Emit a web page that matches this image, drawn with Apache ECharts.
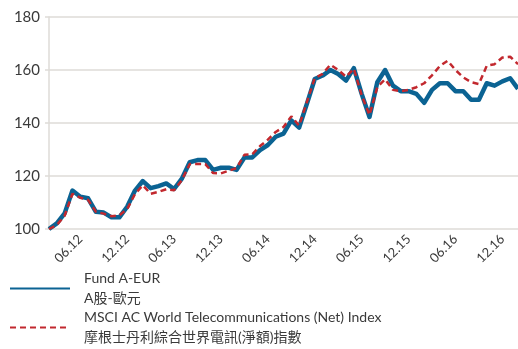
<!DOCTYPE html>
<html>
<head>
<meta charset="utf-8">
<style>
  html, body { margin: 0; padding: 0; background: #fff; }
  #chart { width: 518px; height: 349px; }
</style>
<script src="https://cdn.jsdelivr.net/npm/echarts@6/dist/echarts.min.js"></script>
</head>
<body>
<div id="chart"></div>
<script>
// Monthly rebased performance, start = 100 (61 month-end points)
const months = [];
for (let y = 12; y <= 17; y++) {
  for (let m = 1; m <= 12; m++) {
    if (months.length < 61) months.push((m < 10 ? '0' + m : '' + m) + '.' + y);
  }
}

const fundName = 'Fund A-EUR\nA股-歐元';
const indexName = 'MSCI AC World Telecommunications (Net) Index\n摩根士丹利綜合世界電訊(淨額)指數';

const fundValues = [
  100, 102.1, 105.9, 114.5, 112.2, 111.6, 106.5, 106.2, 104.4, 104.4,
  108.4, 114.5, 118.1, 115.4, 116.2, 117.2, 115.1, 119.0, 125.2, 126.0,
  126.0, 122.3, 123.1, 123.1, 122.3, 127.0, 127.0, 129.8, 131.7, 134.8,
  136.0, 141.0, 138.3, 147.3, 156.6, 157.9, 160.0, 158.5, 156.0, 160.7,
  151.0, 142.3, 155.4, 160.0, 154.1, 152.0, 152.0, 151.0, 147.6, 152.5,
  155.0, 155.0, 152.0, 152.0, 148.8, 148.8, 155.0, 154.1, 155.7, 156.9,
  152.9
];

const indexValues = [
  100, 101.5, 105.0, 113.3, 111.8, 111.0, 106.5, 105.8, 104.8, 105.2,
  107.5, 113.2, 116.5, 113.3, 114.0, 115.0, 114.6, 118.5, 124.5, 124.5,
  124.5, 121.1, 121.0, 122.0, 123.0, 128.0, 128.2, 131.3, 133.7, 136.6,
  138.5, 142.5, 139.0, 148.0, 157.0, 158.5, 162.0, 160.0, 157.5, 160.5,
  150.5, 143.0, 153.5, 156.5, 152.5, 152.0, 152.5, 153.5, 155.0, 158.0,
  161.5, 163.5, 160.0, 157.2, 155.4, 154.7, 161.6, 162.2, 164.7, 165.0,
  162.2
];

// half-yearly tick labels, placed every sixth point starting at index 4
const tickLabels = ['06.12', '12.12', '06.13', '12.13', '06.14', '12.14', '06.15', '12.15', '06.16', '12.16'];
const LABEL_START = 4;
const LABEL_STEP = 6;

const FONT = 'Lato, "Noto Sans", "Noto Sans CJK TC", sans-serif';
const TEXT = '#3a3a3a';
const GRID = '#dedbd7';
const BLUE = '#0b6393';
const RED = '#c2282e';

const chart = echarts.init(document.getElementById('chart'), null, { renderer: 'canvas' });

chart.setOption({
  animation: false,
  textStyle: { fontFamily: FONT },
  grid: { left: 49, right: 0, top: 17, bottom: 120 },
  xAxis: {
    type: 'category',
    data: months,
    boundaryGap: false,
    axisLine: { show: false },
    axisTick: { show: false },
    splitLine: { show: false },
    axisLabel: {
      interval: i => i >= LABEL_START && (i - LABEL_START) % LABEL_STEP === 0,
      formatter: (v, i) => tickLabels[(i - LABEL_START) / LABEL_STEP] || '',
      rotate: 45,
      margin: 8,
      color: TEXT,
      fontSize: 13,
      fontFamily: FONT
    }
  },
  yAxis: {
    type: 'value',
    min: 100,
    max: 180,
    interval: 20,
    axisLine: { show: true, lineStyle: { color: GRID, width: 1.5 } },
    axisTick: { show: true, length: 4, lineStyle: { color: GRID, width: 1.5 } },
    splitLine: { show: true, lineStyle: { color: GRID, width: 1.5 } },
    axisLabel: { color: TEXT, fontSize: 15, margin: 9, fontFamily: FONT }
  },
  legend: {
    orient: 'vertical',
    left: 9,
    top: 269,
    padding: 0,
    itemWidth: 60,
    itemHeight: 10,
    itemGap: 0,
    itemStyle: { opacity: 0 },
    textStyle: {
      color: TEXT,
      fontSize: 14,
      lineHeight: 19.5,
      fontFamily: FONT,
      padding: [0, 0, 0, 9]
    },
    data: [fundName, indexName]
  },
  series: [
    {
      name: fundName,
      type: 'line',
      data: fundValues,
      symbol: 'none',
      lineStyle: { color: BLUE, width: 4.5, join: 'round' },
      itemStyle: { color: BLUE }
    },
    {
      name: indexName,
      type: 'line',
      data: indexValues,
      symbol: 'none',
      lineStyle: { color: RED, width: 2.5, type: [6, 4] },
      itemStyle: { color: RED }
    }
  ]
});
</script>
</body>
</html>
